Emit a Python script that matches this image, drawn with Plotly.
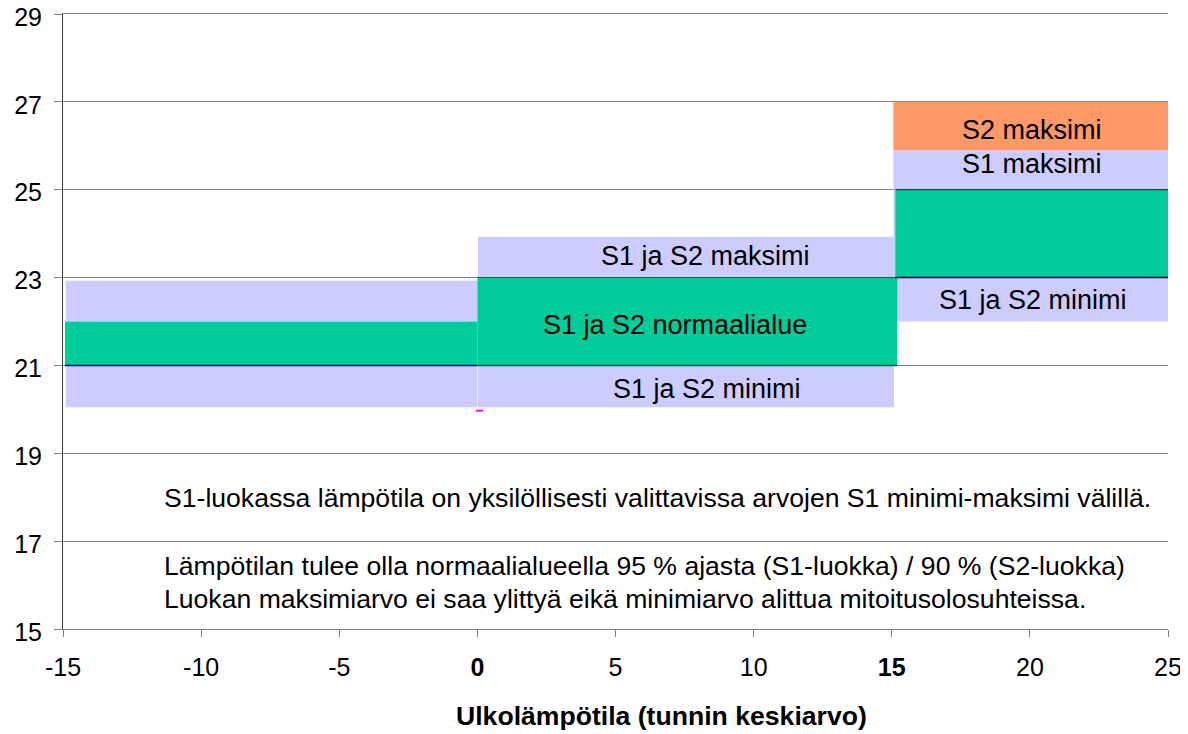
import plotly.graph_objects as go

# ---- data ----
# lavender bands (S1 ja S2 minimi..maksimi), per outdoor-temperature segment
band_x0 = [-14.9, 0.02, 15.06]
band_x1 = [0.0, 15.08, 25.1]
band_low = [20.05, 20.05, 22.0]
band_high = [22.93, 23.93, 25.9]
# green normal range
norm_x0 = [-14.93, 0.0, 15.13]
norm_x1 = [0.0, 15.2, 25.0]
norm_low = [21.0, 21.0, 23.0]
norm_high = [22.0, 23.0, 25.0]
# orange S2 maximum (only in last segment)
s2_x0 = [15.06]
s2_x1 = [25.0]
s2_low = [25.9]
s2_high = [27.0]

x_tickvals = [-15, -10, -5, 0, 5, 10, 15, 20, 25]
x_ticktext = ["-15", "-10", "-5", "<b>0</b>", "5", "10", "<b>15</b>", "20", "25"]
y_tickvals = [15, 17, 19, 21, 23, 25, 27, 29]

region_labels = ["S2 maksimi", "S1 maksimi", "S1 ja S2 maksimi", "S1 ja S2 normaalialue",
                 "S1 ja S2 minimi", "S1 ja S2 minimi"]
region_label_x = [20.06, 20.06, 8.26, 7.14, 8.32, 20.13]
region_label_y = [26.36, 25.58, 23.5, 21.93, 20.47, 22.49]

notes = [
    "S1-luokassa lämpötila on yksilöllisesti valittavissa arvojen S1 minimi-maksimi välillä.",
    "Lämpötilan tulee olla normaalialueella 95 % ajasta (S1-luokka) / 90 % (S2-luokka)",
    "Luokan maksimiarvo ei saa ylittyä eikä minimiarvo alittua mitoitusolosuhteissa.",
]
notes_y = [17.99, 16.44, 15.69]

LAV = "#CCCCFF"
GREEN = "#00CC99"
ORANGE = "#FF9966"
FONT = "Liberation Sans, Arial, sans-serif"
FS_REGION = 27
FS_NOTE = 26.6

fig = go.Figure()


def rect(x0, x1, y0, y1, color):
    fig.add_trace(go.Scatter(
        x=[x0, x1, x1, x0, x0], y=[y0, y0, y1, y1, y0],
        fill="toself", fillcolor=color, mode="lines",
        line=dict(width=0, color=color), hoverinfo="skip", showlegend=False))


for i in range(len(band_x0)):
    rect(band_x0[i], band_x1[i], band_low[i], band_high[i], LAV)
for i in range(len(s2_x0)):
    rect(s2_x0[i], s2_x1[i], s2_low[i], s2_high[i], ORANGE)
for i in range(len(norm_x0)):
    rect(norm_x0[i], norm_x1[i], norm_low[i], norm_high[i], GREEN)

# boundary lines of the normal range (as in the original chart)
edge_colors_low = ["#000080", "#00664C", "#000040"]
edge_colors_high = ["#66DDFF", "#00664C", "#002020"]
for i in range(len(norm_x0)):
    fig.add_trace(go.Scatter(x=[norm_x0[i], norm_x1[i]], y=[norm_low[i], norm_low[i]],
                             mode="lines", line=dict(color=edge_colors_low[i], width=1.6),
                             hoverinfo="skip", showlegend=False))
    fig.add_trace(go.Scatter(x=[norm_x0[i], norm_x1[i]], y=[norm_high[i], norm_high[i]],
                             mode="lines", line=dict(color=edge_colors_high[i], width=1),
                             hoverinfo="skip", showlegend=False))

# small magenta stray mark
fig.add_trace(go.Scatter(x=[0.08], y=[19.97], mode="markers",
                         marker=dict(symbol="line-ew", size=5, line=dict(color="#FF00FF", width=2)),
                         hoverinfo="skip", showlegend=False))

for t, x, y in zip(region_labels, region_label_x, region_label_y):
    fig.add_annotation(x=x, y=y, text=t, showarrow=False, xref="x", yref="y",
                       font=dict(family=FONT, size=FS_REGION, color="black"))

for t, y in zip(notes, notes_y):
    fig.add_annotation(x=-11.4, y=y, text=t, showarrow=False, xref="x", yref="y",
                       xanchor="left", font=dict(family=FONT, size=FS_NOTE, color="black"))

fig.add_annotation(x=(662 - 63) / 1105.5, y=-(717 - 629.5) / 615.5, xref="paper", yref="paper",
                   xanchor="center", yanchor="middle",
                   text="<b>Ulkolämpötila (tunnin keskiarvo)</b>",
                   showarrow=False, font=dict(family=FONT, size=FS_NOTE, color="black"))

# the page body has an 8 px margin, so the figure is 8 px smaller and margins shifted
fig.update_layout(
    width=1180, height=726,
    margin=dict(l=55, r=19.5, t=6, b=104.5),
    paper_bgcolor="white", plot_bgcolor="white",
    font=dict(family=FONT, size=25, color="black"),
)

fig.update_xaxes(range=[-15, 25], tickvals=x_tickvals, ticktext=x_ticktext, automargin=False,
                 showgrid=False, zeroline=False, showline=True, linecolor="#808080", linewidth=1,
                 mirror=True, ticks="outside", ticklen=7, tickcolor="#808080", ticklabelstandoff=9,
                 ticklabeloverflow="allow",
                 tickfont=dict(family=FONT, size=25, color="black"))
fig.update_yaxes(range=[15, 29], tickvals=y_tickvals, showgrid=True, gridcolor="#808080", gridwidth=1,
                 automargin=False,
                 zeroline=False, showline=True, linecolor="#333333", linewidth=1,
                 ticks="outside", ticklen=8, tickcolor="#808080", ticklabelstandoff=7,
                 ticklabelshift=3, ticklabeloverflow="allow",
                 tickfont=dict(family=FONT, size=25, color="black"))

fig.write_html("out.html")
